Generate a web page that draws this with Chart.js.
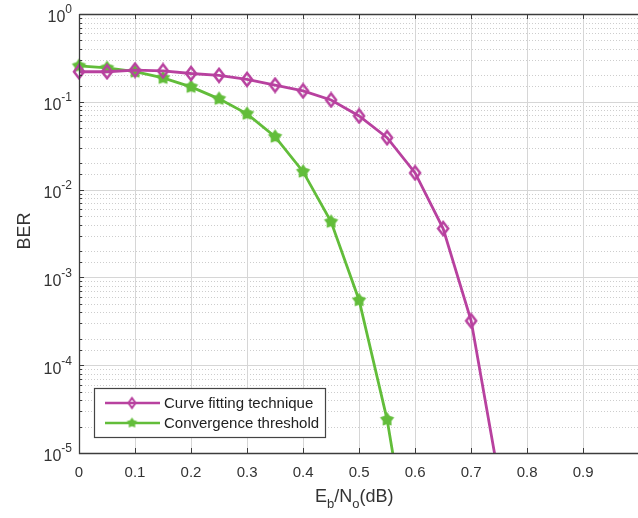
<!DOCTYPE html>
<html>
<head>
<meta charset="utf-8">
<script src="https://cdn.jsdelivr.net/npm/chart.js@4"></script>
<style>
  html, body { margin: 0; padding: 0; background: #fff; overflow: hidden; }
  #wrap { width: 648px; height: 518px; }
</style>
</head>
<body>
<div id="wrap"><canvas id="berChart" width="648" height="518"></canvas></div>
<script>
// Eb/No (dB) sample points
const ebno = [0, 0.05, 0.1, 0.15, 0.2, 0.25, 0.3, 0.35, 0.4, 0.45, 0.5, 0.55, 0.6, 0.65, 0.7, 0.75];

// BER
const curveFitting = [0.22, 0.22, 0.23, 0.225, 0.21, 0.2, 0.18, 0.155, 0.133, 0.105, 0.069, 0.039, 0.0155, 0.0036, 3.2e-4, 5e-6];
const convergence = [0.256, 0.243, 0.22, 0.187, 0.148, 0.108, 0.073, 0.04, 0.016, 0.0043, 5.5e-4, 2.4e-5, 3e-7];

const seriesNames = ["Curve fitting technique", "Convergence threshold"];
const xTickLabels = ["0", "0.1", "0.2", "0.3", "0.4", "0.5", "0.6", "0.7", "0.8", "0.9"];
const yDecadeExps = [0, -1, -2, -3, -4, -5];

const MAGENTA = "#b8419f";
const GREEN = "#62bd3a";
const FONT = "'Liberation Sans', Arial, sans-serif";

function diamondMarker(color, w, h, lw) {
  const c = document.createElement("canvas");
  c.width = w + 4;
  c.height = h + 4;
  const g = c.getContext("2d");
  const cx = c.width / 2, cy = c.height / 2;
  g.strokeStyle = color;
  g.lineWidth = lw;
  g.beginPath();
  g.moveTo(cx, cy - h / 2);
  g.lineTo(cx + w / 2, cy);
  g.lineTo(cx, cy + h / 2);
  g.lineTo(cx - w / 2, cy);
  g.closePath();
  g.stroke();
  return c;
}

function starMarker(color, r) {
  const c = document.createElement("canvas");
  c.width = c.height = Math.ceil(r * 2 + 2);
  const g = c.getContext("2d");
  const cx = c.width / 2, cy = c.height / 2;
  g.fillStyle = color;
  g.beginPath();
  for (let i = 0; i < 10; i++) {
    const rad = i % 2 === 0 ? r : r * 0.6;
    const ang = -Math.PI / 2 + (i * Math.PI) / 5;
    const px = cx + rad * Math.cos(ang), py = cy + rad * Math.sin(ang);
    if (i === 0) g.moveTo(px, py);
    else g.lineTo(px, py);
  }
  g.closePath();
  g.fill();
  return c;
}

const diamond = diamondMarker(MAGENTA, 10, 13, 2.5);
const star = starMarker(GREEN, 7.5);
const legendDiamond = diamondMarker(MAGENTA, 7, 10, 2);
const legendStar = starMarker(GREEN, 5.5);

function isDecade(v) {
  const l = Math.log10(v);
  return Math.abs(l - Math.round(l)) < 1e-6;
}

const matlabAxes = {
  id: "matlabAxes",
  beforeDatasetsDraw(chart) {
    const { ctx, chartArea: a, scales: { x, y } } = chart;
    ctx.save();
    ctx.lineWidth = 1;
    // horizontal grid: solid at decades, dotted at minor ticks
    y.ticks.forEach((t) => {
      const py = Math.round(y.getPixelForValue(t.value)) + 0.5;
      const major = isDecade(t.value);
      ctx.strokeStyle = major ? "#d6d6d6" : "#cdcdcd";
      ctx.setLineDash(major ? [] : [1, 2]);
      ctx.beginPath();
      ctx.moveTo(a.left, py);
      ctx.lineTo(a.right, py);
      ctx.stroke();
    });
    ctx.setLineDash([]);
    ctx.strokeStyle = "#d6d6d6";
    x.ticks.forEach((t) => {
      const px = Math.round(x.getPixelForValue(t.value)) + 0.5;
      ctx.beginPath();
      ctx.moveTo(px, a.top);
      ctx.lineTo(px, a.bottom);
      ctx.stroke();
    });
    ctx.restore();
  },
  afterDatasetsDraw(chart) {
    const { ctx, chartArea: a, scales: { x, y } } = chart;
    ctx.save();
    ctx.strokeStyle = "#3c3c3c";
    ctx.lineWidth = 1.3;
    ctx.beginPath();
    ctx.moveTo(a.left + 0.5, a.top + 0.5);
    ctx.lineTo(a.right, a.top + 0.5);
    ctx.moveTo(a.left + 0.5, a.top);
    ctx.lineTo(a.left + 0.5, a.bottom + 0.5);
    ctx.lineTo(a.right, a.bottom + 0.5);
    ctx.stroke();

    // tick marks
    ctx.lineWidth = 1;
    ctx.beginPath();
    x.ticks.forEach((t) => {
      const px = Math.round(x.getPixelForValue(t.value)) + 0.5;
      ctx.moveTo(px, a.bottom);
      ctx.lineTo(px, a.bottom - 5);
      ctx.moveTo(px, a.top);
      ctx.lineTo(px, a.top + 5);
    });
    y.ticks.forEach((t) => {
      const py = Math.round(y.getPixelForValue(t.value)) + 0.5;
      ctx.moveTo(a.left, py);
      ctx.lineTo(a.left + (isDecade(t.value) ? 5 : 3), py);
    });
    ctx.stroke();

    // x tick labels
    ctx.fillStyle = "#333";
    ctx.font = "15px " + FONT;
    ctx.textAlign = "center";
    ctx.textBaseline = "middle";
    xTickLabels.forEach((lab) => {
      ctx.fillText(lab, x.getPixelForValue(parseFloat(lab)), a.bottom + 20);
    });

    // y tick labels 10^n
    ctx.textAlign = "left";
    yDecadeExps.forEach((e) => {
      const py = y.getPixelForValue(Math.pow(10, e));
      const exp = String(e);
      ctx.font = "12px " + FONT;
      const wExp = ctx.measureText(exp).width;
      ctx.font = "16px " + FONT;
      const wBase = ctx.measureText("10").width;
      const left = 72 - wExp - wBase;
      ctx.fillText("10", left, py + 4);
      ctx.font = "12px " + FONT;
      ctx.fillText(exp, left + wBase, py - 4);
    });

    // axis titles
    ctx.font = "18px " + FONT;
    ctx.save();
    ctx.translate(25, 231);
    ctx.rotate(-Math.PI / 2);
    ctx.textAlign = "center";
    ctx.fillText("BER", 0, 0);
    ctx.restore();

    const parts = [["E", 0], ["b", 1], ["/N", 0], ["o", 1], ["(dB)", 0]];
    let tx = 315;
    const ty = 497;
    ctx.textAlign = "left";
    parts.forEach(([s, sub]) => {
      ctx.font = (sub ? "13px " : "18px ") + FONT;
      ctx.fillText(s, tx, sub ? ty + 7 : ty);
      tx += ctx.measureText(s).width;
    });

    // legend
    const lx = 94.5, ly = 388.5, lw = 231, lh = 49;
    ctx.fillStyle = "#fff";
    ctx.fillRect(lx, ly, lw, lh);
    ctx.strokeStyle = "#444";
    ctx.lineWidth = 1.2;
    ctx.strokeRect(lx, ly, lw, lh);
    const rows = [
      { name: seriesNames[0], color: MAGENTA, img: legendDiamond, yy: 403 },
      { name: seriesNames[1], color: GREEN, img: legendStar, yy: 423 },
    ];
    rows.forEach((r) => {
      ctx.strokeStyle = r.color;
      ctx.lineWidth = 2.5;
      ctx.beginPath();
      ctx.moveTo(105, r.yy);
      ctx.lineTo(160, r.yy);
      ctx.stroke();
      ctx.drawImage(r.img, 132 - r.img.width / 2, r.yy - r.img.height / 2);
      ctx.fillStyle = "#222";
      ctx.font = "15px " + FONT;
      ctx.textBaseline = "middle";
      ctx.fillText(r.name, 164, r.yy + 1);
    });
    ctx.restore();
  },
};

const ctx = document.getElementById("berChart").getContext("2d");
new Chart(ctx, {
  type: "line",
  data: {
    datasets: [
      {
        label: seriesNames[0],
        data: ebno.map((v, i) => ({ x: v, y: curveFitting[i] })),
        borderColor: MAGENTA,
        backgroundColor: MAGENTA,
        borderWidth: 2.8,
        pointStyle: diamond,
        pointRadius: 6,
        tension: 0,
        fill: false,
        clip: { left: 10, right: 10, top: 10, bottom: 0 },
      },
      {
        label: seriesNames[1],
        data: convergence.map((v, i) => ({ x: ebno[i], y: v })),
        borderColor: GREEN,
        backgroundColor: GREEN,
        borderWidth: 2.8,
        pointStyle: star,
        pointRadius: 6,
        tension: 0,
        fill: false,
        clip: { left: 10, right: 10, top: 10, bottom: 0 },
      },
    ],
  },
  options: {
    responsive: false,
    animation: false,
    layout: { padding: { left: 79, top: 14, right: 5, bottom: 65 } },
    plugins: {
      legend: { display: false },
      tooltip: { enabled: false },
    },
    scales: {
      x: {
        type: "linear",
        min: 0,
        max: 1,
        ticks: { display: false, stepSize: 0.1 },
        grid: { display: false, drawTicks: false },
        border: { display: false },
      },
      y: {
        type: "logarithmic",
        min: 1e-5,
        max: 1,
        ticks: { display: false, autoSkip: false },
        grid: { display: false, drawTicks: false },
        border: { display: false },
      },
    },
  },
  plugins: [matlabAxes],
});
</script>
</body>
</html>
